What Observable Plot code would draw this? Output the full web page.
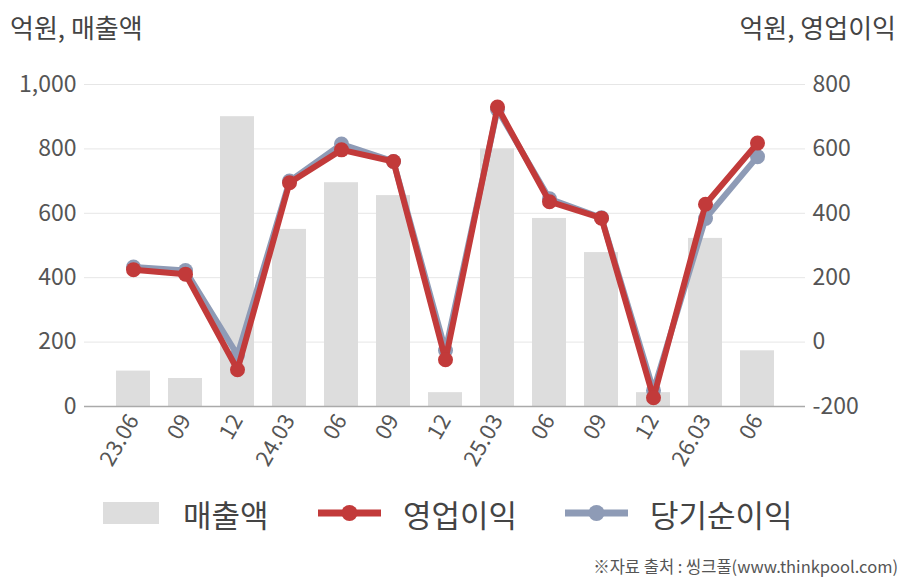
<!DOCTYPE html>
<html>
<head>
<meta charset="utf-8">
<script src="https://cdn.jsdelivr.net/npm/d3@7"></script>
<script src="https://cdn.jsdelivr.net/npm/@observablehq/plot@0.6"></script>
<style>
  body { margin: 0; background: #fff; font-family: "Noto Sans CJK KR", "Noto Sans", sans-serif; }
  #wrap { position: relative; width: 908px; height: 580px; overflow: hidden; }
  .ttl { position: absolute; top: 8px; font-size: 26px; color: #444; white-space: nowrap; }
  #legend { position: absolute; top: 493px; left: 0; width: 908px; height: 40px; font-size: 31px; color: #444; }
  .li { position: absolute; top: 0; display: flex; align-items: center; height: 40px; }
  #cap { position: absolute; right: 10px; top: 554px; font-size: 16.5px; color: #555; white-space: nowrap; }
</style>
</head>
<body>
<div id="wrap">
  <div class="ttl" style="left:10px">억원, 매출액</div>
  <div class="ttl" style="right:12px">억원, 영업이익</div>
  <div id="chart"></div>
  <div id="legend">
    <div class="li" style="left:103px"><svg width="56" height="22"><rect width="56" height="22" fill="#dddddd"/></svg><span style="margin-left:24px">매출액</span></div>
    <div class="li" style="left:318px"><svg width="63" height="22"><line x1="0" x2="63" y1="11" y2="11" stroke="#c23a3a" stroke-width="7"/><circle cx="31.5" cy="11" r="8" fill="#c23a3a"/></svg><span style="margin-left:22px">영업이익</span></div>
    <div class="li" style="left:565px"><svg width="63" height="22"><line x1="0" x2="63" y1="11" y2="11" stroke="#8e9bb6" stroke-width="7"/><circle cx="31.5" cy="11" r="8" fill="#8e9bb6"/></svg><span style="margin-left:22px">당기순이익</span></div>
  </div>
  <div id="cap">※자료 출처 : 씽크풀(www.thinkpool.com)</div>
</div>
<script>
const periods = ["23.06","23.09","23.12","24.03","24.06","24.09","24.12","25.03","25.06","25.09","25.12","26.03","26.06"];
const tickLabels = ["23.06","09","12","24.03","06","09","12","25.03","06","09","12","26.03","06"];
const revenue = [110, 87, 900, 550, 695, 655, 43, 800, 584, 478, 43, 522, 173];
const operatingProfit = [225, 211, -86, 495, 597, 561, -55, 730, 436, 385, -173, 428, 618];
const netIncome = [233, 222, -40, 500, 615, 561, -26, 722, 445, 386, -150, 384, 576];

const leftTicks = [0, 200, 400, 600, 800, 1000];
const rightOffset = 200; // right axis: -200..800 aligned with left 0..1000

const rows = periods.map((p, i) => ({
  p, label: tickLabels[i], rev: revenue[i],
  op: operatingProfit[i] + rightOffset, ni: netIncome[i] + rightOffset
}));
const labelOf = new Map(periods.map((p, i) => [p, tickLabels[i]]));

const red = "#c23a3a", blue = "#8e9bb6";

const chart = Plot.plot({
  width: 908,
  height: 480,
  marginLeft: 84,
  marginRight: 103,
  marginTop: 84,
  marginBottom: 74,
  style: { fontFamily: "'Noto Sans CJK KR', 'Noto Sans', sans-serif", color: "#444", background: "transparent" },
  x: { domain: periods, paddingInner: 0.35, paddingOuter: 0.58 },
  y: { domain: [0, 1000] },
  marks: [
    Plot.ruleY(leftTicks, { stroke: "#e6e6e6", strokeWidth: 1 }),
    Plot.barY(rows, { x: "p", y: "rev", fill: "#dddddd" }),
    Plot.ruleY([0], { stroke: "#aaaaaa", strokeWidth: 1.5 }),
    Plot.axisY({ ticks: leftTicks, tickSize: 0, tickPadding: 8, tickFormat: d3.format(","), fontSize: 23, fill: "#555", label: null }),
    Plot.axisY({ anchor: "right", ticks: leftTicks, tickSize: 0, tickPadding: 7, tickFormat: d => String(d - rightOffset), fontSize: 23, fill: "#555", label: null }),
    Plot.axisX({ tickSize: 0, tickPadding: 10, tickRotate: -60, tickFormat: d => labelOf.get(d), fontSize: 22, fill: "#555", label: null }),
    Plot.line(rows, { x: "p", y: "ni", stroke: blue, strokeWidth: 6 }),
    Plot.dot(rows, { x: "p", y: "ni", fill: blue, r: 7.5 }),
    Plot.line(rows, { x: "p", y: "op", stroke: red, strokeWidth: 6 }),
    Plot.dot(rows, { x: "p", y: "op", fill: red, r: 7.5 })
  ]
});
document.getElementById("chart").appendChild(chart);
</script>
</body>
</html>
